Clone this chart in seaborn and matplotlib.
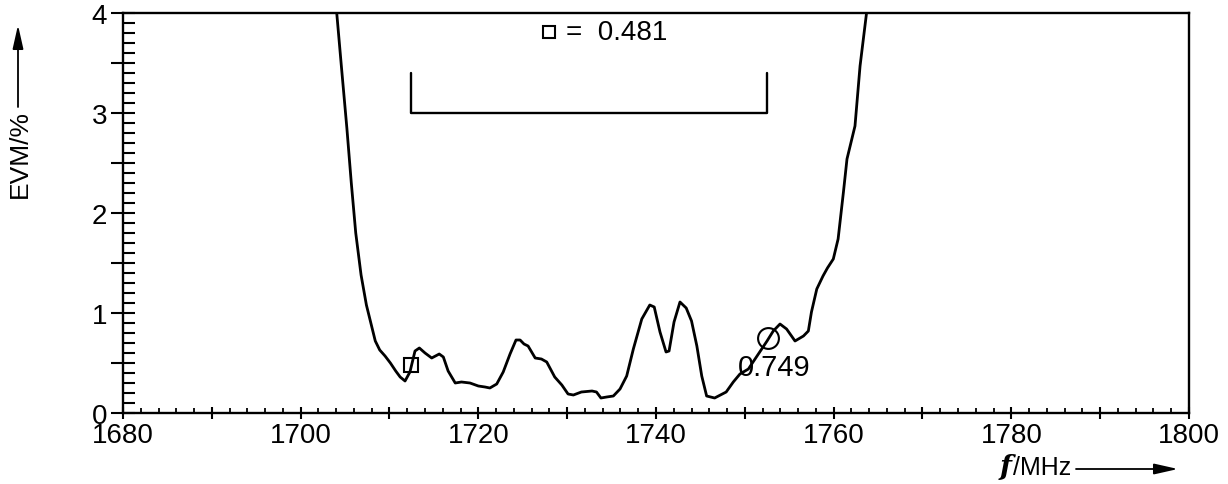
import numpy as np
import pandas as pd
import matplotlib
matplotlib.use("Agg")
import matplotlib.pyplot as plt
from matplotlib.ticker import MultipleLocator, FuncFormatter
import seaborn as sns

# ---------------- data ----------------
freq_mhz = [1704.06, 1704.6, 1705.2, 1705.7, 1706.2, 1706.8, 1707.4, 1707.9, 1708.4, 1708.9,
            1709.5, 1710.1, 1710.7, 1711.2, 1711.75, 1712.3, 1712.87, 1713.36, 1714.0, 1714.75,
            1715.6, 1716.06, 1716.6, 1717.4, 1718.1, 1719.06, 1720.0, 1720.75, 1721.3, 1722.07,
            1722.8, 1723.57, 1724.24, 1724.7, 1725.14, 1725.6, 1726.4, 1727.1, 1727.7, 1728.6,
            1729.4, 1730.1, 1730.7, 1731.6, 1732.8, 1733.3, 1733.8, 1734.45, 1735.2, 1735.95,
            1736.7, 1737.45, 1738.4, 1739.3, 1739.8, 1740.45, 1741.13, 1741.47, 1742.03, 1742.7,
            1743.4, 1744.0, 1744.6, 1745.15, 1745.7, 1746.6, 1747.9, 1748.7, 1749.45, 1750.4,
            1751.3, 1752.5, 1753.2, 1753.96, 1754.7, 1755.65, 1756.6, 1757.15, 1757.5, 1758.1,
            1758.8, 1759.3, 1759.96, 1760.5, 1761.1, 1761.5, 1762.4, 1762.97, 1763.7]
evm_pct = [4.0, 3.45, 2.85, 2.3, 1.8, 1.38, 1.08, 0.9, 0.72, 0.63,
           0.57, 0.5, 0.42, 0.36, 0.32, 0.41, 0.62, 0.65, 0.60, 0.55,
           0.59, 0.56, 0.42, 0.30, 0.31, 0.30, 0.27, 0.26, 0.25, 0.29,
           0.41, 0.59, 0.73, 0.73, 0.69, 0.67, 0.55, 0.54, 0.51, 0.36,
           0.28, 0.19, 0.18, 0.21, 0.22, 0.21, 0.15, 0.16, 0.17, 0.24,
           0.37, 0.64, 0.94, 1.08, 1.06, 0.81, 0.61, 0.62, 0.91, 1.11,
           1.05, 0.92, 0.67, 0.37, 0.17, 0.15, 0.21, 0.31, 0.39, 0.44,
           0.56, 0.72, 0.82, 0.89, 0.84, 0.72, 0.77, 0.82, 1.01, 1.24,
           1.37, 1.45, 1.54, 1.74, 2.21, 2.54, 2.87, 3.47, 4.0]

marker_sq_freq, marker_sq_val = 1712.4, 0.481
marker_ci_freq, marker_ci_val = 1752.6, 0.749
band_edges = [1712.4, 1752.5]

x_ticks_labeled = [1680, 1700, 1720, 1740, 1760, 1780, 1800]
y_ticks_labeled = [0, 1, 2, 3, 4]

# ---------------- style ----------------
sns.set_theme(style="white")
plt.rcParams['font.family'] = ['Liberation Sans', 'DejaVu Sans']
plt.rcParams['axes.edgecolor'] = 'black'
plt.rcParams['text.color'] = 'black'
plt.rcParams['xtick.color'] = 'black'
plt.rcParams['ytick.color'] = 'black'
plt.rcParams['xtick.labelcolor'] = 'black'
plt.rcParams['ytick.labelcolor'] = 'black'

W, H = 1228, 485
fig = plt.figure(figsize=(W / 100, H / 100), dpi=100)
fig.patch.set_facecolor('white')
ax = fig.add_axes([123 / W, 1 - 414 / H, (1189 - 123) / W, (414 - 14) / H])
ax.set_facecolor('white')

df = pd.DataFrame({"f": freq_mhz, "evm": evm_pct})
sns.lineplot(data=df, x="f", y="evm", ax=ax, color='black', lw=2.0, sort=False,
             estimator=None)

ax.set_xlim(1680, 1800)
ax.set_ylim(0, 4)
ax.set_xlabel("")
ax.set_ylabel("")

for s in ax.spines.values():
    s.set_linewidth(1.7)
    s.set_color('black')

# y ticks
ax.yaxis.set_major_locator(MultipleLocator(0.5))
ax.yaxis.set_minor_locator(MultipleLocator(0.1))
ax.yaxis.remove_overlapping_locs = False
ax.yaxis.set_major_formatter(FuncFormatter(
    lambda v, p: f"{int(round(v))}" if abs(v - round(v)) < 1e-6 else ""))
ax.tick_params(axis='y', which='major', direction='out', length=8.5, width=1.5,
               labelsize=20, pad=3, left=True, colors='black')
ax.tick_params(axis='y', which='minor', direction='in', length=8.5, width=1.5, left=True)

# x ticks
ax.xaxis.set_major_locator(MultipleLocator(10))
ax.xaxis.set_minor_locator(MultipleLocator(2))
ax.xaxis.set_major_formatter(FuncFormatter(
    lambda v, p: f"{int(round(v))}" if int(round(v)) in x_ticks_labeled else ""))
ax.tick_params(axis='x', which='major', direction='inout', length=9, width=1.5,
               labelsize=20, pad=2, bottom=True, colors='black')
ax.tick_params(axis='x', which='minor', direction='in', length=3.5, width=1.3, bottom=True)

# markers
ax.plot([marker_sq_freq], [marker_sq_val], marker='s', ms=10, mfc='none', mec='black',
        mew=1.5, ls='none')
ax.plot([marker_ci_freq], [marker_ci_val], marker='o', ms=15, mfc='none', mec='black',
        mew=1.5, ls='none')
ax.text(1749.2, 0.457, f"{marker_ci_val:.3f}", fontsize=21, ha='left', va='center',
        color='black')

# legend-like header
ax.plot([1727.9], [3.81], marker='s', ms=9, mfc='none', mec='black', mew=1.5, ls='none')
ax.text(1729.9, 3.81, f"=  {marker_sq_val:.3f}", fontsize=20, ha='left', va='center',
        color='black')

# bracket
ax.plot([band_edges[0], band_edges[0], band_edges[1], band_edges[1]],
        [3.4, 3.0, 3.0, 3.4], color='black', lw=1.7)

# axis labels with arrows
arrow_kw = dict(arrowstyle='-|>,head_length=0.8,head_width=0.18',
                color='black', lw=1.3, mutation_scale=18, shrinkA=0, shrinkB=0)
fig.text(20 / W, 1 - 154 / H, "EVM/%", rotation=90, fontsize=19, ha='center', va='center',
         color='black')
ax.annotate("", xy=(18 / W, 1 - 26 / H), xytext=(18 / W, 1 - 108 / H),
            xycoords='figure fraction', textcoords='figure fraction',
            arrowprops=arrow_kw, annotation_clip=False)
fig.text(1000 / W, 1 - 468 / H, "f", fontsize=20, style='italic', weight='bold',
         family='DejaVu Serif', ha='left', va='center', color='black')
fig.text(1013 / W, 1 - 468 / H, "/MHz", fontsize=18, ha='left', va='center', color='black')
ax.annotate("", xy=(1178 / W, 1 - 470 / H), xytext=(1076 / W, 1 - 470 / H),
            xycoords='figure fraction', textcoords='figure fraction',
            arrowprops=arrow_kw, annotation_clip=False)

fig.savefig("out.png", dpi=100, facecolor='white')
